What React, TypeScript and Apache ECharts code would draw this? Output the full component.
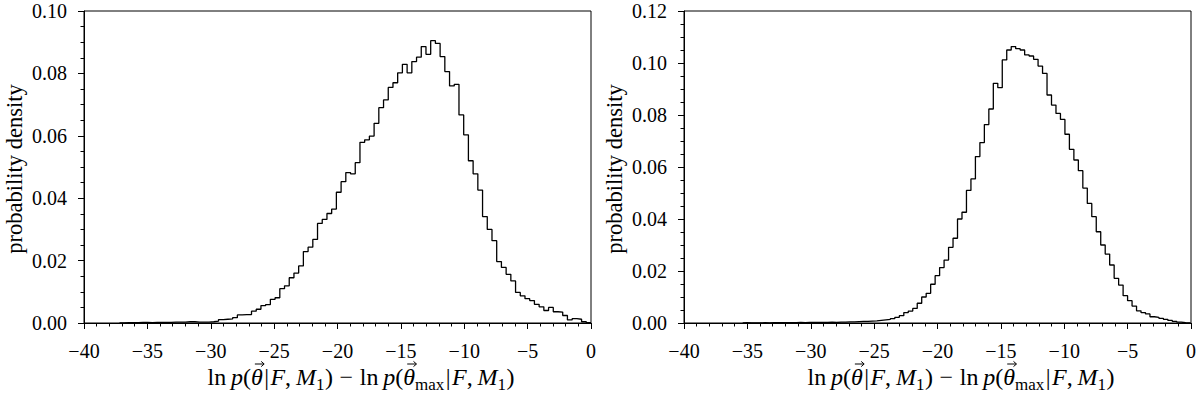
import React, { useEffect, useRef } from "react";
import * as echarts from "echarts";

// Left panel histogram: 100 bins starting at leftBinStart, width leftBinWidth
const leftBinStart = -37.2;
const leftBinWidth = 0.372;
const leftValues = [
  0.0000, 0.0001, 0.0001, 0.0001, 0.0002, 0.0002, 0.0001, 0.0002, 0.0002, 0.0002,
  0.0002, 0.0003, 0.0003, 0.0003, 0.0004, 0.0004, 0.0003, 0.0003, 0.0003, 0.0004,
  0.0006, 0.0011, 0.0012, 0.0013, 0.0017, 0.0026, 0.0027, 0.0027, 0.0038, 0.0044,
  0.0056, 0.0059, 0.0076, 0.0081, 0.0110, 0.0119, 0.0145, 0.0160, 0.0183, 0.0229,
  0.0243, 0.0268, 0.0319, 0.0332, 0.0351, 0.0365, 0.0419, 0.0453, 0.0482, 0.0478,
  0.0514, 0.0579, 0.0587, 0.0599, 0.0640, 0.0690, 0.0715, 0.0755, 0.0770, 0.0802,
  0.0829, 0.0802, 0.0838, 0.0852, 0.0886, 0.0861, 0.0905, 0.0896, 0.0854, 0.0806,
  0.0760, 0.0765, 0.0667, 0.0603, 0.0520, 0.0478, 0.0426, 0.0341, 0.0300, 0.0264,
  0.0197, 0.0178, 0.0156, 0.0135, 0.0098, 0.0087, 0.0078, 0.0072, 0.0060, 0.0052,
  0.0040, 0.0050, 0.0036, 0.0035, 0.0024, 0.0010, 0.0014, 0.0012, 0.0004, 0.0001,
];

// Right panel histogram
const rightBinStart = -35.37;
const rightBinWidth = 0.3531;
const rightValues = [
  0.0001, 0.0000, 0.0000, 0.0000, 0.0001, 0.0000, 0.0001, 0.0001, 0.0001, 0.0001,
  0.0001, 0.0001, 0.0002, 0.0001, 0.0002, 0.0002, 0.0002, 0.0002, 0.0002, 0.0003,
  0.0002, 0.0003, 0.0003, 0.0004, 0.0004, 0.0005, 0.0006, 0.0006, 0.0007, 0.0008,
  0.0010, 0.0012, 0.0014, 0.0017, 0.0022, 0.0028, 0.0040, 0.0046, 0.0056, 0.0076,
  0.0100, 0.0114, 0.0149, 0.0182, 0.0213, 0.0242, 0.0291, 0.0326, 0.0400, 0.0426,
  0.0510, 0.0554, 0.0640, 0.0694, 0.0763, 0.0823, 0.0922, 0.0905, 0.1012, 0.1050,
  0.1063, 0.1055, 0.1050, 0.1031, 0.1027, 0.1014, 0.0988, 0.0960, 0.0877, 0.0838,
  0.0806, 0.0783, 0.0726, 0.0668, 0.0627, 0.0586, 0.0519, 0.0460, 0.0409, 0.0351,
  0.0300, 0.0265, 0.0223, 0.0172, 0.0146, 0.0105, 0.0086, 0.0065, 0.0047, 0.0040,
  0.0035, 0.0024, 0.0022, 0.0018, 0.0014, 0.0010, 0.0006, 0.0003, 0.0001, 0.0000,
];

const xMin = -40;
const xMax = 0;
const xInterval = 5;
const leftYMax = 0.1;
const rightYMax = 0.12;
const yInterval = 0.02;

const yTitle = "probability density";
// x-axis title: ln p(θ⃗|F, M1) − ln p(θ⃗max|F, M1), as styled tokens
// k: r = roman, i = italic, s = subscript; sp = space (em) before the token; arrow = vector arrow over it
const xTitleTokens = [
  { t: "ln", k: "r", sp: 0 },
  { t: "p", k: "i", sp: 0.2 },
  { t: "(", k: "r", sp: 0 },
  { t: "θ", k: "i", sp: 0, arrow: true },
  { t: "|", k: "r", sp: 0.06 },
  { t: "F", k: "i", sp: 0.06 },
  { t: ",", k: "r", sp: 0 },
  { t: "M", k: "i", sp: 0.2 },
  { t: "1", k: "s", sp: 0 },
  { t: ")", k: "r", sp: 0.02 },
  { t: "\u2212", k: "r", sp: 0.28 },
  { t: "ln", k: "r", sp: 0.28 },
  { t: "p", k: "i", sp: 0.2 },
  { t: "(", k: "r", sp: 0 },
  { t: "θ", k: "i", sp: 0, arrow: true },
  { t: "max", k: "s", sp: 0 },
  { t: "|", k: "r", sp: 0.06 },
  { t: "F", k: "i", sp: 0.06 },
  { t: ",", k: "r", sp: 0 },
  { t: "M", k: "i", sp: 0.2 },
  { t: "1", k: "s", sp: 0 },
  { t: ")", k: "r", sp: 0.02 },
];

const FONT = "'Liberation Serif', 'DejaVu Serif', serif";
const TICK_FONT_SIZE = 20;
const TITLE_FONT_SIZE = 24;
const SUB_FONT_SIZE = 17;
const YTITLE_FONT_SIZE = 22.5;

function stepPoints(start: number, width: number, values: number[]) {
  const pts: number[][] = [[start, 0]];
  values.forEach((v, i) => pts.push([start + i * width, v]));
  const end = start + values.length * width;
  pts.push([end, values[values.length - 1]]);
  pts.push([end, 0]);
  return pts;
}

const fmtX = (v: number) => (v < 0 ? "\u2212" + Math.abs(v) : String(v));
const fmtY = (v: number) => v.toFixed(2);

function xAxisCfg(gridIndex: number) {
  return {
    type: "value",
    gridIndex,
    min: xMin,
    max: xMax,
    interval: xInterval,
    axisLine: { show: true, onZero: false, lineStyle: { color: "#000", width: 1 } },
    axisTick: { show: true, inside: false, length: 6, lineStyle: { color: "#000", width: 1 } },
    minorTick: { show: true, splitNumber: 5, length: 3.5, lineStyle: { color: "#000", width: 1 } },
    splitLine: { show: false },
    axisLabel: {
      formatter: fmtX,
      color: "#000",
      fontFamily: FONT,
      fontSize: TICK_FONT_SIZE,
      margin: 18,
    },
  };
}

function yAxisCfg(gridIndex: number, max: number) {
  return {
    type: "value",
    gridIndex,
    min: 0,
    max,
    interval: yInterval,
    axisLine: { show: true, onZero: false, lineStyle: { color: "#000", width: 1 } },
    axisTick: { show: true, inside: false, length: 6, lineStyle: { color: "#000", width: 1 } },
    minorTick: { show: true, splitNumber: 4, length: 3.5, lineStyle: { color: "#000", width: 1 } },
    splitLine: { show: false },
    axisLabel: {
      formatter: fmtY,
      color: "#000",
      fontFamily: FONT,
      fontSize: TICK_FONT_SIZE,
      margin: 17,
    },
  };
}

function fontFor(k: string) {
  if (k === "i") return `italic ${TITLE_FONT_SIZE}px ${FONT}`;
  if (k === "s") return `${SUB_FONT_SIZE}px ${FONT}`;
  return `${TITLE_FONT_SIZE}px ${FONT}`;
}

function buildTitle(cx: number, cy: number) {
  const canvas = document.createElement("canvas");
  const ctx = canvas.getContext("2d") as CanvasRenderingContext2D;
  const widths = xTitleTokens.map((tok) => {
    ctx.font = fontFor(tok.k);
    return ctx.measureText(tok.t).width;
  });
  let total = 0;
  xTitleTokens.forEach((tok, i) => {
    total += tok.sp * TITLE_FONT_SIZE + widths[i];
  });
  let cursor = cx - total / 2;
  const els: any[] = [];
  xTitleTokens.forEach((tok, i) => {
    cursor += tok.sp * TITLE_FONT_SIZE;
    const isSub = tok.k === "s";
    els.push({
      type: "text",
      x: cursor,
      y: isSub ? cy + 7 : cy,
      style: {
        text: tok.t,
        fontFamily: FONT,
        fontSize: isSub ? SUB_FONT_SIZE : TITLE_FONT_SIZE,
        fontStyle: tok.k === "i" ? "italic" : "normal",
        fill: "#000",
        align: "left",
        verticalAlign: "middle",
      },
    });
    if ((tok as any).arrow) {
      const ax = cursor + widths[i] / 2 + 2.5;
      const ay = cy - 13;
      els.push({
        type: "line",
        shape: { x1: ax - 4.5, y1: ay, x2: ax + 4.5, y2: ay },
        style: { stroke: "#000", lineWidth: 1 },
      });
      els.push({
        type: "polyline",
        shape: { points: [[ax + 1.8, ay - 2.6], [ax + 4.8, ay], [ax + 1.8, ay + 2.6]] },
        style: { stroke: "#000", lineWidth: 1, fill: "none" },
      });
    }
    cursor += widths[i];
  });
  return els;
}

export default function App() {
  const ref = useRef<HTMLDivElement>(null);
  useEffect(() => {
    if (!ref.current) return;
    const chart = echarts.init(ref.current, null, { renderer: "svg" });
    const grids = [
      { left: 84, top: 11, width: 507, height: 312 },
      { left: 684, top: 11, width: 507, height: 312 },
    ];
    chart.setOption({
      animation: false,
      backgroundColor: "#fff",
      grid: grids.map((g) => ({ ...g, show: true, borderColor: "#000", borderWidth: 1, backgroundColor: "transparent" })),
      xAxis: [xAxisCfg(0), xAxisCfg(1)],
      yAxis: [yAxisCfg(0, leftYMax), yAxisCfg(1, rightYMax)],
      series: [
        {
          type: "line",
          xAxisIndex: 0,
          yAxisIndex: 0,
          step: "end",
          showSymbol: false,
          symbol: "none",
          data: stepPoints(leftBinStart, leftBinWidth, leftValues),
          lineStyle: { color: "#000", width: 1.3 },
        },
        {
          type: "line",
          xAxisIndex: 1,
          yAxisIndex: 1,
          step: "end",
          showSymbol: false,
          symbol: "none",
          data: stepPoints(rightBinStart, rightBinWidth, rightValues),
          lineStyle: { color: "#000", width: 1.3 },
        },
      ],
      graphic: [
        ...buildTitle(361, 377),
        ...buildTitle(961, 377),
        {
          type: "text",
          x: 14,
          y: 169,
          rotation: Math.PI / 2,
          style: { text: yTitle, fontFamily: FONT, fontSize: YTITLE_FONT_SIZE, fill: "#000", align: "center", verticalAlign: "middle" },
        },
        {
          type: "text",
          x: 614,
          y: 169,
          rotation: Math.PI / 2,
          style: { text: yTitle, fontFamily: FONT, fontSize: YTITLE_FONT_SIZE, fill: "#000", align: "center", verticalAlign: "middle" },
        },
      ],
    });
    return () => chart.dispose();
  }, []);
  return (
    <div
      ref={ref}
      style={{ position: "absolute", left: 0, top: 0, width: 1200, height: 393, background: "#fff" }}
    />
  );
}
